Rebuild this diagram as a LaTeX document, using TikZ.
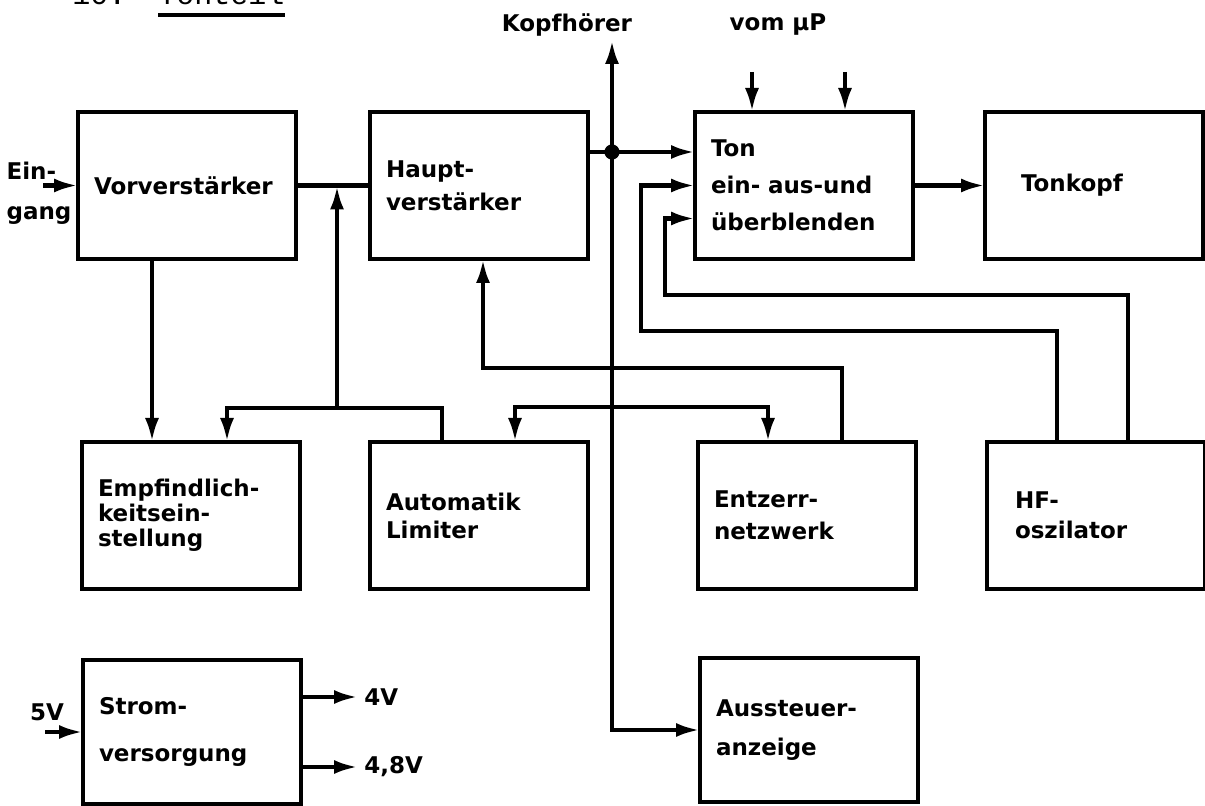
\documentclass[tikz,border=0pt]{standalone}
\usepackage{fontspec}
\setmainfont{DejaVu Sans}
\setmonofont{Liberation Mono}
\usepackage{tikz}
\usetikzlibrary{positioning,arrows.meta}
\tikzset{
    blockbox/.style={
        draw=black, line width=2.4pt, outer sep=0pt,
        minimum height=73.5pt, text width=93pt, inner xsep=8pt,
        font=\fontsize{11.5}{14}\selectfont\bfseries, align=left
    },
    extlabel/.style={
        font=\fontsize{11.5}{14}\selectfont\bfseries, inner sep=3pt, align=left
    },
    titlefont/.style={
        font=\ttfamily\fontsize{15}{18}\selectfont, inner sep=0pt, anchor=base west
    },
    wire/.style={line width=2.2pt},
    arrow/.style={-{Latex[length=12pt,width=7pt]}, line width=2.2pt},
}

\begin{document}
\begin{tikzpicture}[x=0.5pt, y=-0.5pt, node distance=36pt]
                \useasboundingbox (0,0) rectangle (1205,806);
                \fill[white] (0,0) rectangle (1205,806);
                \clip (0,0) rectangle (1205,806);

                % Ueberschrift
                \node[titlefont] (secno) at (72,5) {10.};
                \node[titlefont] (sectitle) at (158,5) {Tonteil};
                \coordinate (uline) at (0,15);
                \draw[line width=1.6pt] (sectitle.base west |- uline) -- (sectitle.base east |- uline);

                % obere Reihe
                \node[blockbox, anchor=north west] (vorv) at (78,112) {Vorverstärker};
                \node[blockbox, right=37pt of vorv] (haupt) {Haupt-\\[2.5pt]verstärker};
                \node[blockbox, right=53.5pt of haupt] (ton) {Ton\\[4.5pt]ein- aus-und\\[4.5pt]überblenden};
                \node[blockbox, right=36pt of ton] (tonkopf) {\hspace*{10pt}Tonkopf};

                % mittlere Reihe
                \node[blockbox, anchor=north west] (empf) at (82,442) {Empfindlich-\\[-1.5pt]keitsein-\\[-1.5pt]stellung};
                \node[blockbox, right=35pt of empf] (auto) {Automatik\\Limiter};
                \node[blockbox, right=55pt of auto] (entz) {Entzerr-\\[2pt]netzwerk};
                \node[blockbox, right=35.5pt of entz] (hf) {\hspace*{6pt}HF-\\[1pt]\hspace*{6pt}oszilator};

                % untere Reihe
                \node[blockbox, anchor=north west, minimum height=72pt] (strom) at (83,660) {Strom-\\[9.5pt]versorgung};
                \node[blockbox, anchor=north west, minimum height=72pt] (auss) at (700,658) {Aussteuer-\\[5.5pt]anzeige};

                % Beschriftungen aussen
                \node[extlabel] (kopf) at (567,25) {Kopfhörer};
                \node[extlabel] (mup) at (778,25) {vom µP};
                \node[extlabel, align=left] (eing) at (39,193) {Ein-\\[6pt]gang};
                \node[extlabel] (v5) at (47,712) {5V};
                \node[extlabel, anchor=west] (v4) at (358,697) {4V};
                \node[extlabel, anchor=west] (v48) at (358,767) {4,8V};

                \coordinate (ein) at (43,186);
                \coordinate (v5in) at (45,732);
                \coordinate (kjoin) at (612,152);
                \coordinate (kend) at (612,40);
                \coordinate (mpa) at (752,72);
                \coordinate (mpb) at (845,72);
                \coordinate (abend) at (442,408);
                \coordinate (ebend) at (227,408);
                \coordinate (vtee) at (337,408);
                \coordinate (lbend) at (515,407);
                \coordinate (rbend) at (768,407);
                \coordinate (hbend) at (483,368);
                \coordinate (zbend) at (842,368);
                \coordinate (hfa) at (1128,295);
                \coordinate (tina) at (665,295);
                \coordinate (hfb) at (1057,331);
                \coordinate (tinb) at (641,331);

                % Signalweg
                \draw[arrow] (ein |- vorv.west) -- (vorv.west);
                \draw[wire] (vorv.east) -- (haupt.west);
                \draw[arrow] ([xshift=37pt]vorv.south west) -- ([xshift=37pt]vorv.south west |- empf.north);
                \draw[arrow] (auto.north -| abend) -- (abend) -- (ebend) -- (empf.north -| ebend);
                \draw[arrow] (vtee) -- (vorv.east -| vtee);
                \draw[wire] (haupt.east |- kjoin) -- (kjoin);
                \draw[arrow] (kjoin) -- (ton.west |- kjoin);
                \draw[arrow] (kjoin) -- (kend);
                \draw[arrow] (kjoin) |- (auss.west);
                \fill (kjoin) circle (3.8pt);
                \draw[arrow] (kjoin |- lbend) -- (lbend) -- (auto.north -| lbend);
                \draw[arrow] (kjoin |- rbend) -- (rbend) -- (entz.north -| rbend);
                \draw[arrow] (entz.north -| zbend) -- (zbend) -- (hbend) -- (haupt.south -| hbend);
                \draw[arrow] (hf.north -| hfa) -- (hfa) -- (tina) |- ([yshift=-16.5pt]ton.west);
                \draw[arrow] (hf.north -| hfb) -- (hfb) -- (tinb) |- (ton.west);
                \draw[arrow] (mpa) -- (ton.north -| mpa);
                \draw[arrow] (mpb) -- (ton.north -| mpb);
                \draw[arrow] (ton.east) -- (tonkopf.west);

                % Stromversorgung
                \draw[arrow] (v5in) -- (v5in -| strom.west);
                \draw[arrow] (strom.east |- v4) -- (v4.west);
                \draw[arrow] (strom.east |- v48) -- (v48.west);
            \end{tikzpicture}
\end{document}
